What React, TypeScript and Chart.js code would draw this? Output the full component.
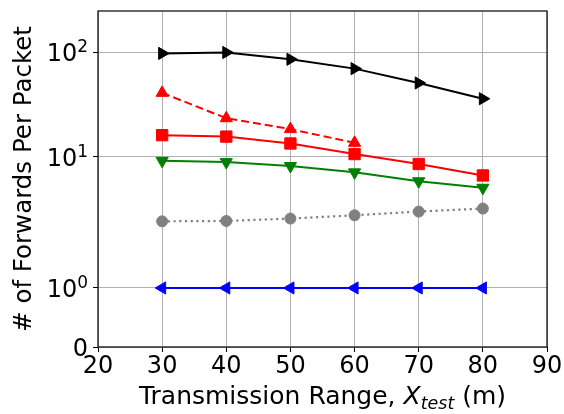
import React, { useEffect, useRef } from 'react';
import { Chart, registerables, LinearScale } from 'chart.js';

// ---- data ----
const X_VALUES = [30, 40, 50, 60, 70, 80];
const BLACK_RIGHT = [98, 100, 86, 70, 51, 36];
const RED_DASHED_UP = [41, 23.4, 18.4, 13.6];
const RED_SQUARE = [16.1, 15.6, 13.4, 10.6, 8.8, 7.2];
const GREEN_DOWN = [9.3, 9.1, 8.5, 7.6, 6.5, 5.8];
const GRAY_CIRCLE = [3.22, 3.24, 3.38, 3.58, 3.82, 4.03];
const BLUE_LEFT = [1, 1, 1, 1, 1, 1];

const X_MIN = 20;
const X_MAX = 90;
const X_STEP = 10;
const Y_TICKS = [0, 1, 10, 100];
const Y_TICK_BASES = ['0', '10', '10', '10'];
const Y_TICK_EXPONENTS = ['', '0', '1', '2'];
const Y_MAX = 250;
const Y_TITLE = '# of Forwards Per Packet';
const X_TITLE_MAIN = 'Transmission Range, ';
const X_TITLE_VAR = 'X';
const X_TITLE_SUB = 'test';
const X_TITLE_END = ' (m)';

const FONT = '"DejaVu Sans", sans-serif';

// ---- warped y scale: linear 0..1, then two log decades of different span ----
const SEG_LIN = 59;
const SEG_DEC1 = 131.2;
const SEG_DEC2 = 104.2;

function warp(v: number): number {
  if (v <= 1) return v * SEG_LIN;
  if (v <= 10) return SEG_LIN + SEG_DEC1 * Math.log10(v);
  return SEG_LIN + SEG_DEC1 + SEG_DEC2 * Math.log10(v / 10);
}
function unwarp(t: number): number {
  if (t <= SEG_LIN) return t / SEG_LIN;
  if (t <= SEG_LIN + SEG_DEC1) return Math.pow(10, (t - SEG_LIN) / SEG_DEC1);
  return 10 * Math.pow(10, (t - SEG_LIN - SEG_DEC1) / SEG_DEC2);
}

class WarpScale extends LinearScale {
  static id = 'warp';
  static defaults = (LinearScale as any).defaults;
  buildTicks() {
    return Y_TICKS.map((v) => ({ value: v }));
  }
  getPixelForValue(value: number) {
    const a = warp((this as any).min);
    const b = warp((this as any).max);
    return (this as any).getPixelForDecimal((warp(value) - a) / (b - a));
  }
  getValueForPixel(pixel: number) {
    const a = warp((this as any).min);
    const b = warp((this as any).max);
    return unwarp(a + (this as any).getDecimalForPixel(pixel) * (b - a));
  }
}

Chart.register(...registerables, WarpScale as any);

const framePlugin = {
  id: 'frame',
  afterDatasetsDraw(chart: any) {
    const { ctx, chartArea } = chart;
    ctx.save();
    ctx.strokeStyle = '#000';
    ctx.lineWidth = 1.2;
    ctx.strokeRect(chartArea.left, chartArea.top, chartArea.right - chartArea.left, chartArea.bottom - chartArea.top);
    ctx.restore();
  },
};

// y tick labels with mathtext-like superscripts
const yLabelPlugin = {
  id: 'yLabels',
  afterDraw(chart: any) {
    const { ctx } = chart;
    const scale = chart.scales.y;
    const right = scale.right - 10;
    ctx.save();
    ctx.fillStyle = '#000';
    ctx.textAlign = 'left';
    ctx.textBaseline = 'alphabetic';
    Y_TICKS.forEach((v, i) => {
      const y = scale.getPixelForValue(v);
      const base = Y_TICK_BASES[i];
      const exp = Y_TICK_EXPONENTS[i];
      ctx.font = `17px ${FONT}`;
      const ew = exp ? ctx.measureText(exp).width : 0;
      ctx.font = `24px ${FONT}`;
      const bw = ctx.measureText(base).width;
      const baseline = y + 8.8;
      ctx.fillText(base, right - ew - bw, baseline);
      if (exp) {
        ctx.font = `17px ${FONT}`;
        ctx.fillText(exp, right - ew, baseline - 9);
      }
    });
    ctx.restore();
  },
};

const xTitlePlugin = {
  id: 'xTitle',
  afterDraw(chart: any) {
    const { ctx, chartArea } = chart;
    const parts = [
      { text: X_TITLE_MAIN, font: `25px ${FONT}`, dy: 0 },
      { text: X_TITLE_VAR, font: `italic 25px ${FONT}`, dy: 0 },
      { text: X_TITLE_SUB, font: `italic 17.5px ${FONT}`, dy: 5 },
      { text: X_TITLE_END, font: `25px ${FONT}`, dy: 0 },
    ];
    ctx.save();
    ctx.fillStyle = '#000';
    ctx.textBaseline = 'alphabetic';
    ctx.textAlign = 'left';
    let total = 0;
    const widths = parts.map((p) => {
      ctx.font = p.font;
      const w = ctx.measureText(p.text).width;
      total += w;
      return w;
    });
    let x = (chartArea.left + chartArea.right) / 2 - total / 2;
    const baseY = 404;
    parts.forEach((p, i) => {
      ctx.font = p.font;
      ctx.fillText(p.text, x, baseY + p.dy);
      x += widths[i];
    });
    ctx.restore();
  },
};

function series(ys: number[]) {
  return ys.map((y, i) => ({ x: X_VALUES[i], y }));
}

export default function App() {
  const ref = useRef<HTMLCanvasElement | null>(null);
  useEffect(() => {
    if (!ref.current) return;
    Chart.defaults.font.family = FONT;
    const common = { borderWidth: 2, pointBorderWidth: 1, tension: 0 };
    const chart = new Chart(ref.current, {
      type: 'line',
      data: {
        datasets: [
          {
            ...common,
            data: series(BLUE_LEFT),
            borderColor: '#0000ff',
            backgroundColor: '#0000ff',
            pointStyle: 'triangle',
            pointRotation: 270,
            pointRadius: 7,
          },
          {
            ...common,
            data: series(GRAY_CIRCLE),
            borderColor: '#808080',
            backgroundColor: '#808080',
            borderWidth: 2.2,
            borderDash: [2.2, 3.5],
            pointStyle: 'circle',
            pointRadius: 5.5,
          },
          {
            ...common,
            data: series(GREEN_DOWN),
            borderColor: '#008000',
            backgroundColor: '#008000',
            pointStyle: 'triangle',
            pointRotation: 180,
            pointRadius: 7,
          },
          {
            ...common,
            data: series(RED_SQUARE),
            borderColor: '#ff0000',
            backgroundColor: '#ff0000',
            pointStyle: 'rect',
            pointRadius: 8,
          },
          {
            ...common,
            data: series(RED_DASHED_UP),
            borderColor: '#ff0000',
            backgroundColor: '#ff0000',
            borderDash: [8, 4],
            pointStyle: 'triangle',
            pointRotation: 0,
            pointRadius: 7,
          },
          {
            ...common,
            data: series(BLACK_RIGHT),
            borderColor: '#000000',
            backgroundColor: '#000000',
            pointStyle: 'triangle',
            pointRotation: 90,
            pointRadius: 7,
          },
        ] as any,
      },
      options: {
        animation: false,
        responsive: false,
        devicePixelRatio: 1,
        layout: { autoPadding: false, padding: { top: 11, right: 17, left: 0, bottom: 0 } } as any,
        plugins: { legend: { display: false }, tooltip: { enabled: false } },
        scales: {
          x: {
            type: 'linear',
            min: X_MIN,
            max: X_MAX,
            ticks: { stepSize: X_STEP, color: '#000', font: { size: 24 }, padding: 0, maxRotation: 0 },
            grid: { color: '#b0b0b0', lineWidth: 1, tickColor: '#000', tickLength: 5, tickWidth: 1 },
            border: { display: false },
            afterFit: (s: any) => {
              s.height = 67;
              s.paddingLeft = 0;
              s.paddingRight = 0;
            },
          },
          y: {
            type: 'warp' as any,
            min: 0,
            max: Y_MAX,
            ticks: { display: false },
            grid: { color: '#b0b0b0', lineWidth: 1, tickColor: '#000', tickLength: 5, tickWidth: 1 },
            border: { display: false },
            title: { display: true, text: Y_TITLE, color: '#000', font: { size: 24.5 }, padding: { top: 10, bottom: 0 } },
            afterFit: (s: any) => {
              s.width = 98;
              s.paddingTop = 0;
              s.paddingBottom = 0;
            },
          },
        } as any,
      },
      plugins: [framePlugin, yLabelPlugin, xTitlePlugin],
    });
    return () => chart.destroy();
  }, []);
  return (
    <div style={{ position: 'fixed', left: 0, top: 0, width: 564, height: 414, background: '#fff' }}>
      <canvas ref={ref} width={564} height={414} />
    </div>
  );
}
